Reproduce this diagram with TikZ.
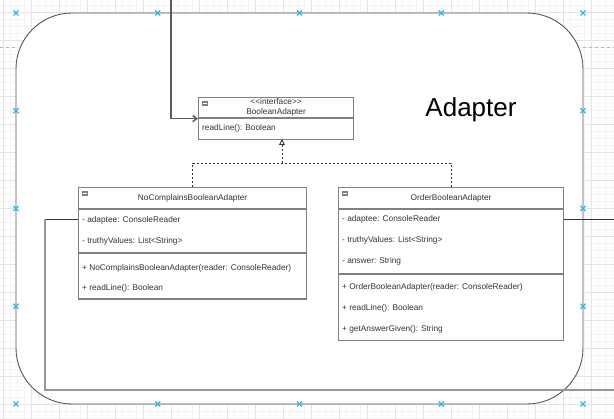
\documentclass[tikz,border=0pt]{standalone}
\usepackage{fontspec}
\setmainfont{Liberation Sans}
\usetikzlibrary{arrows.meta,calc}
\definecolor{umlgrey}{RGB}{128,128,128}
\definecolor{textgrey}{RGB}{51,51,51}
\definecolor{linkgrey}{RGB}{150,150,150}
\definecolor{handleblue}{RGB}{41,182,242}
\definecolor{gridmajor}{RGB}{228,228,228}
\definecolor{gridminor}{RGB}{245,245,245}
\definecolor{framegrey}{RGB}{85,85,85}
\tikzset{
  classbox/.style={draw=umlgrey, line width=1.2pt, fill=white,
    anchor=north west, inner sep=0pt},
  classname/.style={inner sep=0pt, text=textgrey,
    font=\fontsize{8.3}{9}\selectfont},
  member/.style={anchor=west, inner sep=0pt, text=textgrey,
    font=\fontsize{8.3}{9}\selectfont},
  rowrule/.style={draw=umlgrey, line width=1.2pt},
  link/.style={draw=linkgrey, line width=1.5pt},
  wire/.style={draw=textgrey, line width=0.9pt},
  realize/.style={draw=textgrey, line width=0.9pt, dash pattern=on 2pt off 2pt},
  handle/.style={draw=handleblue, line width=1.1pt}
}

\begin{document}
\begin{tikzpicture}[x=1pt, y=-1pt]
    \useasboundingbox (0,0) rectangle (614,419);
    \clip (0,0) rectangle (614,419);
    % Editor grid
    \foreach \gx in {3,10,...,614} \draw[gridminor] (\gx,0) -- (\gx,419);
    \foreach \gy in {5.7,12.7,...,419} \draw[gridminor] (0,\gy) -- (614,\gy);
    \foreach \gx in {3,31,...,614} \draw[gridmajor] (\gx,0) -- (\gx,419);
    \foreach \gy in {12.7,40.7,...,419} \draw[gridmajor] (0,\gy) -- (614,\gy);
    % Guides
    \draw[gray!60, dashed] (0,47) -- (16,47);
    \draw[gray!60, dashed] (583,47) -- (614,47);
    % Package frame
    \draw[framegrey, line width=0.9pt, fill=white, rounded corners=56pt]
      (16,13) rectangle (583,404);
    \node[font=\fontsize{26}{30}\selectfont, inner sep=0pt, anchor=base]
      (title) at (471,116.7) {Adapter};
    % Interface box
    \node[classbox, minimum width=155pt, minimum height=42pt]
      (iface) at (198,97) {};
    \draw[rowrule] ($(iface.north west)+(0,21)$) -- ($(iface.north east)+(0,21)$);
    \node[classname] (iface-st) at ($(iface.north)+(0,5)$) {<{}<interface>{}>};
    \node[classname] (iface-nm) at ($(iface.north)+(0,15.5)$) {BooleanAdapter};
    \node[member] (iface-m1) at (202,128) {readLine(): Boolean};
    % NoComplainsBooleanAdapter box
    \node[classbox, minimum width=228pt, minimum height=111.5pt]
      (nca) at (78,187) {};
    \draw[rowrule] ($(nca.north west)+(0,22)$) -- ($(nca.north east)+(0,22)$);
    \draw[rowrule] ($(nca.north west)+(0,66)$) -- ($(nca.north east)+(0,66)$);
    \node[classname] (nca-nm) at ($(nca.north)+(0,11)$) {NoComplainsBooleanAdapter};
    \foreach \txt [count=\i] in {{- adaptee: ConsoleReader},
        {- truthyValues: List<String>}}
      \node[member] (nca-a\i) at (82,199+21*\i) {\txt};
    \foreach \txt [count=\i] in {{+ NoComplainsBooleanAdapter(reader: ConsoleReader)},
        {+ readLine(): Boolean}}
      \node[member] (nca-m\i) at (82,248+20*\i) {\txt};
    % OrderBooleanAdapter box
    \node[classbox, minimum width=225pt, minimum height=153pt]
      (oba) at (338,187) {};
    \draw[rowrule] ($(oba.north west)+(0,22)$) -- ($(oba.north east)+(0,22)$);
    \draw[rowrule] ($(oba.north west)+(0,87)$) -- ($(oba.north east)+(0,87)$);
    \node[classname] (oba-nm) at ($(oba.north)+(0,11)$) {OrderBooleanAdapter};
    \foreach \txt [count=\i] in {{- adaptee: ConsoleReader},
        {- truthyValues: List<String>}, {- answer: String}}
      \node[member] (oba-a\i) at (342,198+21*\i) {\txt};
    \foreach \txt [count=\i] in {{+ OrderBooleanAdapter(reader: ConsoleReader)},
        {+ readLine(): Boolean}, {+ getAnswerGiven(): String}}
      \node[member] (oba-m\i) at (342,266+21*\i) {\txt};
    % Collapse icons
    \foreach \cls in {iface,nca,oba}{
      \fill[umlgrey] ($(\cls.north west)+(4,4)$) rectangle ++(6,5);
      \draw[white, line width=0.7pt] ($(\cls.north west)+(5.2,6.5)$) -- ++(3.6,0);
    }
    % Realization arrows
    \coordinate (split) at (282,163);
    \coordinate (ifin) at (282,139);
    \draw[realize] (nca.north) |- (split);
    \draw[realize] (oba.north) |- (split);
    \draw[realize, -{Triangle[open, fill=white, length=6pt, width=6pt]}]
      (split) -- (ifin);
    % Incoming link to interface
    \coordinate (topin) at (171,0);
    \draw[link, -{Straight Barb[length=4pt, width=6pt]}, textgrey!80]
      (topin) |- (iface.west);
    % Outgoing links
    \coordinate (bend) at (45,219);
    \coordinate (rightout) at (614,219);
    \coordinate (lowout) at (614,390);
    \draw[wire] (nca.west |- bend) -- (bend);
    \draw[link] (bend) |- (lowout);
    \draw[wire] (oba.east |- rightout) -- (rightout);
    % Connection handles
    \foreach \hx in {16,157.75,299.5,441.25,583}
      \foreach \hy in {13,404}
        \draw[handle] (\hx-2.5,\hy-2.5) -- ++(5,5) (\hx-2.5,\hy+2.5) -- ++(5,-5);
    \foreach \hx in {16,583}
      \foreach \hy in {110.75,208.5,306.25}
        \draw[handle] (\hx-2.5,\hy-2.5) -- ++(5,5) (\hx-2.5,\hy+2.5) -- ++(5,-5);
  \end{tikzpicture}
\end{document}
